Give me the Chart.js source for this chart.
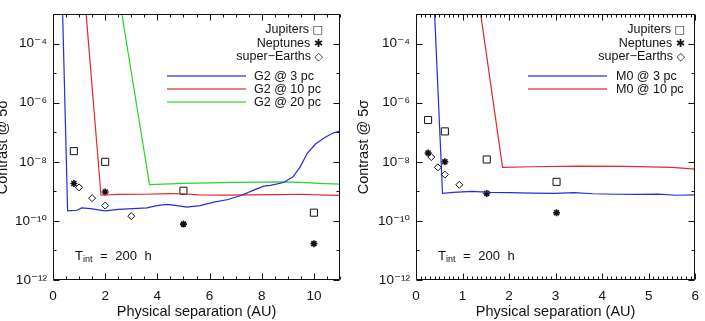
<!DOCTYPE html>
<html><head><meta charset="utf-8">
<script src="https://cdn.jsdelivr.net/npm/chart.js@4.4.1/dist/chart.umd.min.js"></script>
<style>
html,body{margin:0;padding:0;background:#fff;overflow:hidden;width:705px;height:321px;}
body{position:relative;font-family:'Liberation Sans','DejaVu Sans',sans-serif;color:#111;}
.c{position:absolute;top:0;}
.lg{position:absolute;font-size:12.5px;line-height:14px;white-space:pre;}
.ln{position:absolute;height:2px;}
.sym{font-family:'DejaVu Sans',sans-serif;font-size:11px;}
.ti{position:absolute;font-size:13px;line-height:15px;white-space:pre;word-spacing:4px;}
.ti sub{font-size:9px;vertical-align:-2px;line-height:0;}
</style></head><body>
<canvas id="cL" class="c" width="361" height="321" style="left:-6px"></canvas>
<canvas id="cR" class="c" width="352" height="321" style="left:355px"></canvas>

<div class="lg" style="right:382px;top:22px">Jupiters <span class="sym">□</span></div>
<div class="lg" style="right:382px;top:35.5px">Neptunes <span class="sym">✱</span></div>
<div class="lg" style="right:382px;top:48.5px">super−Earths <span class="sym">◇</span></div>
<div class="ln" style="left:167px;width:79px;top:75px;background:rgba(40,40,220,0.6)"></div>
<div class="ln" style="left:167px;width:79px;top:88px;background:rgba(225,40,40,0.6)"></div>
<div class="ln" style="left:167px;width:79px;top:101px;background:rgba(40,215,40,0.6)"></div>
<div class="lg" style="left:254px;top:69px">G2 @ 3 pc</div>
<div class="lg" style="left:254px;top:82px">G2 @ 10 pc</div>
<div class="lg" style="left:254px;top:95px">G2 @ 20 pc</div>
<div class="ti" style="left:75px;top:247.5px">T<sub>int</sub> = 200 h</div>

<div class="lg" style="right:20px;top:22px">Jupiters <span class="sym">□</span></div>
<div class="lg" style="right:20px;top:35.5px">Neptunes <span class="sym">✱</span></div>
<div class="lg" style="right:20px;top:48.5px">super−Earths <span class="sym">◇</span></div>
<div class="ln" style="left:528px;width:79px;top:75px;background:rgba(40,40,220,0.6)"></div>
<div class="ln" style="left:528px;width:79px;top:88px;background:rgba(225,40,40,0.6)"></div>
<div class="lg" style="left:616px;top:69px">M0 @ 3 pc</div>
<div class="lg" style="left:616px;top:82px">M0 @ 10 pc</div>
<div class="ti" style="left:438px;top:247.5px">T<sub>int</sub> = 200 h</div>

<script>
// ---------- Left panel (G2 star) ----------
const L_jupSep = [0.8, 2.0, 5.0, 10.0];
const L_jupCon = [2.3e-8, 1.0e-8, 1.05e-9, 1.9e-10];
const L_nepSep = [0.8, 2.0, 5.0, 10.0];
const L_nepCon = [1.85e-9, 9.5e-10, 7.8e-11, 1.7e-11];
const L_seSep  = [1.0, 1.5, 2.0, 3.0];
const L_seCon  = [1.36e-9, 5.9e-10, 3.3e-10, 1.45e-10];

const L_g2_3pcSep = [0.37,0.56,0.91,1.1,1.44,2.0,2.5,3.08,3.6,3.98,4.37,4.75,5.13,5.64,6.16,6.67,7.18,7.69,8.08,8.33,8.84,9.2,9.48,9.74,10.06,10.45,10.76,11.0];
const L_g2_3pcCon = [1e-3,2.2e-10,2.3e-10,2.75e-10,2.6e-10,2.2e-10,2.45e-10,2.6e-10,2.75e-10,3.3e-10,3.6e-10,3.3e-10,2.95e-10,3.3e-10,4.3e-10,5.2e-10,7.1e-10,1.1e-9,1.5e-9,1.6e-9,2.0e-9,3.1e-9,6.9e-9,1.9e-8,4.0e-8,6.9e-8,9.6e-8,1.1e-7];
const L_g2_10pcSep = [1.27,1.84,2.5,3.5,4.5,5.0,5.6,6.5,7.5,8.5,9.5,10.5,11.0];
const L_g2_10pcCon = [1e-3,7.4e-10,7.9e-10,8.0e-10,8.4e-10,8.3e-10,7.6e-10,7.5e-10,7.6e-10,7.8e-10,8.0e-10,7.5e-10,7.3e-10];
const L_g2_20pcSep = [2.64,3.7,5.0,6.0,7.0,8.0,8.85,9.5,10.2,11.0];
const L_g2_20pcCon = [1e-3,1.7e-9,1.85e-9,1.95e-9,2.0e-9,2.05e-9,2.1e-9,2.0e-9,1.85e-9,1.75e-9];

// ---------- Right panel (M0 star) ----------
const R_jupSep = [0.26, 0.62, 1.52, 3.02];
const R_jupCon = [2.6e-7, 1.07e-7, 1.2e-8, 2.1e-9];
const R_nepSep = [0.26, 0.62, 1.52, 3.02];
const R_nepCon = [2.0e-8, 1.0e-8, 8.5e-10, 1.9e-10];
const R_seSep  = [0.33, 0.47, 0.62, 0.93];
const R_seCon  = [1.45e-8, 6.5e-9, 3.7e-9, 1.67e-9];

const R_m0_3pcSep = [0.40,0.57,0.8,1.2,1.6,2.0,2.5,3.0,3.4,3.8,4.3,4.8,5.2,5.6,6.0];
const R_m0_3pcCon = [1e-3,8.5e-10,9.2e-10,1.0e-9,9.3e-10,9.0e-10,8.7e-10,8.6e-10,9.1e-10,8.3e-10,8.0e-10,7.9e-10,8.1e-10,7.4e-10,7.6e-10];
const R_m0_10pcSep = [1.39,1.86,2.5,3.5,4.5,5.5,6.0];
const R_m0_10pcCon = [1e-3,6.5e-9,6.8e-9,7.2e-9,7.0e-9,6.5e-9,5.7e-9];

// ---------- Axis ticks ----------
const L_xMajor = [0, 2, 4, 6, 8, 10];
const R_xMajor = [0, 1, 2, 3, 4, 5, 6];
const yMajorExp = [-12, -10, -8, -6, -4];
const yTickLabels = ['10⁻¹²', '10⁻¹⁰', '10⁻⁸', '10⁻⁶', '10⁻⁴'];

const BLUE = '#2a2ad8', RED = '#e02a2a', GREEN = '#2ad42a', INK = '#111';
Chart.defaults.font.family = "'Liberation Sans','DejaVu Sans',sans-serif";
Chart.defaults.color = INK;

const pts = (xs, ys) => xs.map((x, i) => ({x, y: ys[i]}));

const frameTicks = {
  id: 'frameTicks',
  afterDraw(chart) {
    const {ctx, chartArea: a, scales: {x, y}} = chart;
    const L = Math.round(a.left) + 0.5, R = Math.round(a.right) - 0.5;
    const T = Math.round(a.top) + 0.5, B = Math.round(a.bottom) - 0.5;
    ctx.save();
    ctx.strokeStyle = INK; ctx.lineWidth = 1;
    ctx.beginPath();
    ctx.rect(L, T, R - L, B - T);
    x.ticks.forEach(t => {
      const p = Math.round(x.getPixelForValue(t.value)) + 0.5;
      const len = t.label ? 6 : 3;
      ctx.moveTo(p, B); ctx.lineTo(p, B - len);
      ctx.moveTo(p, T); ctx.lineTo(p, T + len);
    });
    y.ticks.forEach(t => {
      const p = Math.round(y.getPixelForValue(t.value)) + 0.5;
      const len = t.label ? 6 : 3;
      ctx.moveTo(L, p); ctx.lineTo(L + len, p);
      ctx.moveTo(R, p); ctx.lineTo(R - len, p);
    });
    ctx.stroke();
    ctx.restore();
  }
};

function lineDs(xs, ys, color) {
  return {data: pts(xs, ys), showLine: true, borderColor: color, borderWidth: 1.2,
    pointRadius: 0, pointHoverRadius: 0, fill: false, tension: 0};
}
function markDs(xs, ys, style, r, bw) {
  return {data: pts(xs, ys), showLine: false, pointStyle: style, pointRadius: r,
    pointHoverRadius: r, borderColor: INK, backgroundColor: 'rgba(0,0,0,0)', pointBorderWidth: bw, borderWidth: bw};
}

function build(id, o) {
  const xTicks = [];
  for (let i = 0; i <= Math.round(o.xMax / o.minor); i++) xTicks.push(Math.round(i * o.minor * 1e6) / 1e6);
  const yTicks = [];
  for (let e = -12; e <= -3; e++) yTicks.push(Math.pow(10, e));
  new Chart(document.getElementById(id), {
    type: 'scatter',
    data: {datasets: o.datasets},
    options: {
      responsive: false, animation: false, devicePixelRatio: 1, events: [],
      layout: {padding: {top: 6, right: o.padRight, left: 0, bottom: 0}},
      plugins: {legend: {display: false}, tooltip: {enabled: false}},
      scales: {
        x: {
          type: 'linear', min: 0, max: o.xMax,
          grid: {display: false, drawTicks: false}, border: {display: false},
          afterBuildTicks: s => { s.ticks = xTicks.map(v => ({value: v})); },
          ticks: {autoSkip: false, maxRotation: 0, padding: 8, font: {size: 13.5},
            callback: v => { const m = o.xMajor.find(q => Math.abs(q - v) < 1e-6); return m === undefined ? '' : String(m); }},
          title: {display: true, text: 'Physical separation (AU)', font: {size: 14.5}, padding: {top: 0, bottom: 0}},
          afterFit: s => { s.height = 41; }
        },
        y: {
          type: 'logarithmic', min: 1e-12, max: 1e-3,
          grid: {display: false, drawTicks: false}, border: {display: false},
          afterBuildTicks: s => { s.ticks = yTicks.map(v => ({value: v})); },
          ticks: {autoSkip: false, padding: 6, font: {size: 13.5},
            callback: v => { const i = yMajorExp.indexOf(Math.round(Math.log10(v))); return i < 0 ? '' : yTickLabels[i]; }},
          title: {display: true, text: 'Contrast @ 5σ', font: {size: 14.5}, padding: {top: 0, bottom: 0}},
          afterFit: s => { s.width = o.yW; }
        }
      }
    },
    plugins: [frameTicks]
  });
}

build('cL', {
  xMax: 11, minor: 0.5, xMajor: L_xMajor, padRight: 15, yW: 59,
  datasets: [
    lineDs(L_g2_3pcSep, L_g2_3pcCon, BLUE),
    lineDs(L_g2_10pcSep, L_g2_10pcCon, RED),
    lineDs(L_g2_20pcSep, L_g2_20pcCon, GREEN),
    markDs(L_jupSep, L_jupCon, 'rect', 5, 1),
    markDs(L_nepSep, L_nepCon, 'star', 3.5, 1.6),
    markDs(L_seSep, L_seCon, 'rectRot', 3.5, 1)
  ]
});
build('cR', {
  xMax: 6, minor: 0.1, xMajor: R_xMajor, padRight: 5, yW: 61,
  datasets: [
    lineDs(R_m0_3pcSep, R_m0_3pcCon, BLUE),
    lineDs(R_m0_10pcSep, R_m0_10pcCon, RED),
    markDs(R_jupSep, R_jupCon, 'rect', 5, 1),
    markDs(R_nepSep, R_nepCon, 'star', 3.5, 1.6),
    markDs(R_seSep, R_seCon, 'rectRot', 3.5, 1)
  ]
});
</script>
</body></html>
